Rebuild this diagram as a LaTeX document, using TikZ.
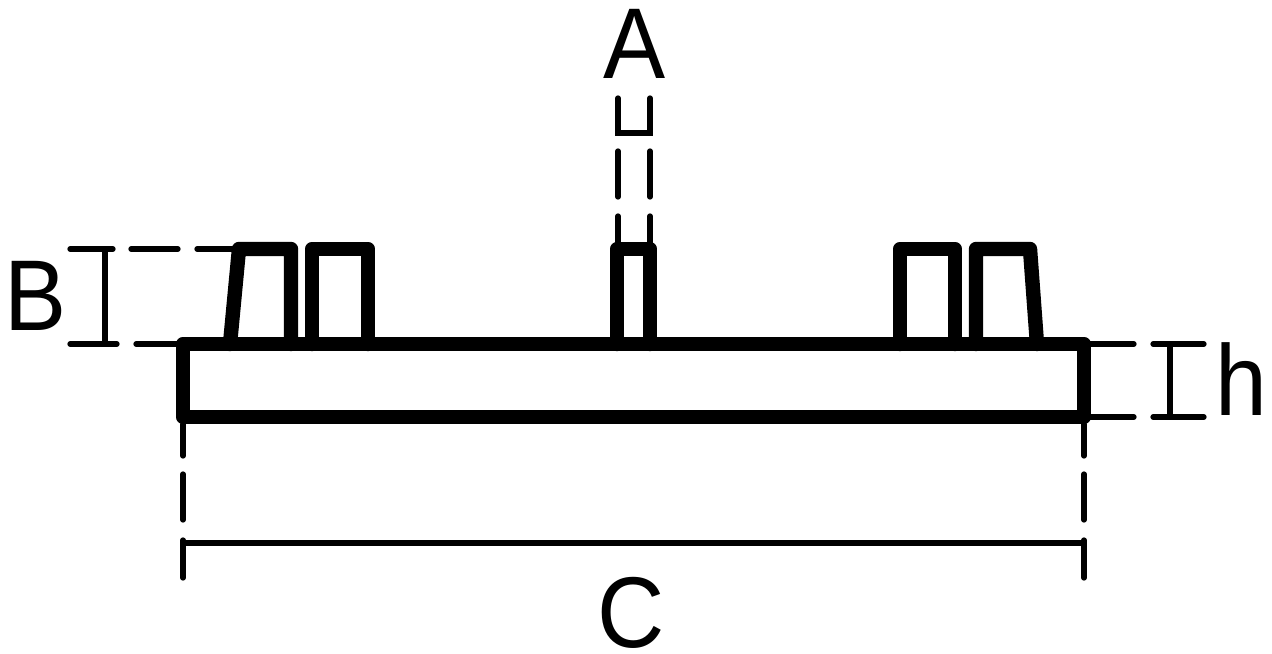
\documentclass[tikz,border=0pt]{standalone}
\usepackage{fontspec}
\setmainfont{Liberation Sans}
\usetikzlibrary{positioning}
\tikzset{
  thickline/.style={line width=8.2pt,line join=round,line cap=round},
  dimline/.style={line width=3pt,line cap=round},
  letter/.style={inner sep=0pt,anchor=base,yscale=1.08,font=\fontsize{53}{53}\selectfont}
}
\begin{document}
\begin{tikzpicture}[x=0.02cm,y=-0.02cm]
\useasboundingbox (0,0) rectangle (1272,653);
% plate
\draw [thickline] (183,344) rectangle (1084,417);
% teeth
\draw [thickline] (230,344) -- (239,249) -- (291,249) -- (291,344);
\draw [thickline] (312,344) -- (312,249) -- (368,249) -- (368,344);
\draw [thickline] (617,344) -- (617,249) -- (650,249) -- (650,344);
\draw [thickline] (900,344) -- (900,249) -- (955,249) -- (955,344);
\draw [thickline] (976,344) -- (976,249) -- (1030,249) -- (1037,344);
% A
\draw [dimline] (618,98) -- (618,133) -- (650,133) -- (650,98);
\draw [dimline] (618,151) -- (618,197);
\draw [dimline] (650,151) -- (650,197);
\draw [dimline] (618,216) -- (618,245);
\draw [dimline] (650,216) -- (650,245);
\node [letter] (labelA) at (635,78) {A};
% B
\draw [dimline] (70,249) -- (113,249);
\draw [dimline] (131,249) -- (178,249);
\draw [dimline] (197,249) -- (235,249);
\draw [dimline] (70,344) -- (117,344);
\draw [dimline] (136,344) -- (178,344);
\draw [dimline] (105,249) -- (105,344);
\node [letter] (labelB) at (36,330) {B};
% h
\draw [dimline] (1090,344) -- (1134,344);
\draw [dimline] (1153,344) -- (1204,344);
\draw [dimline] (1090,417) -- (1134,417);
\draw [dimline] (1153,417) -- (1204,417);
\draw [dimline] (1170,344) -- (1170,417);
\node [letter] (labelh) at (1241,415) {h};
% C
\draw [dimline] (183,424) -- (183,456);
\draw [dimline] (183,474) -- (183,520);
\draw [dimline] (183,540) -- (183,578);
\draw [dimline] (1084,424) -- (1084,456);
\draw [dimline] (1084,474) -- (1084,520);
\draw [dimline] (1084,540) -- (1084,578);
\draw [dimline] (183,543) -- (1084,543);
\node [letter] (labelC) at (631,647) {C};
\end{tikzpicture}
\end{document}
